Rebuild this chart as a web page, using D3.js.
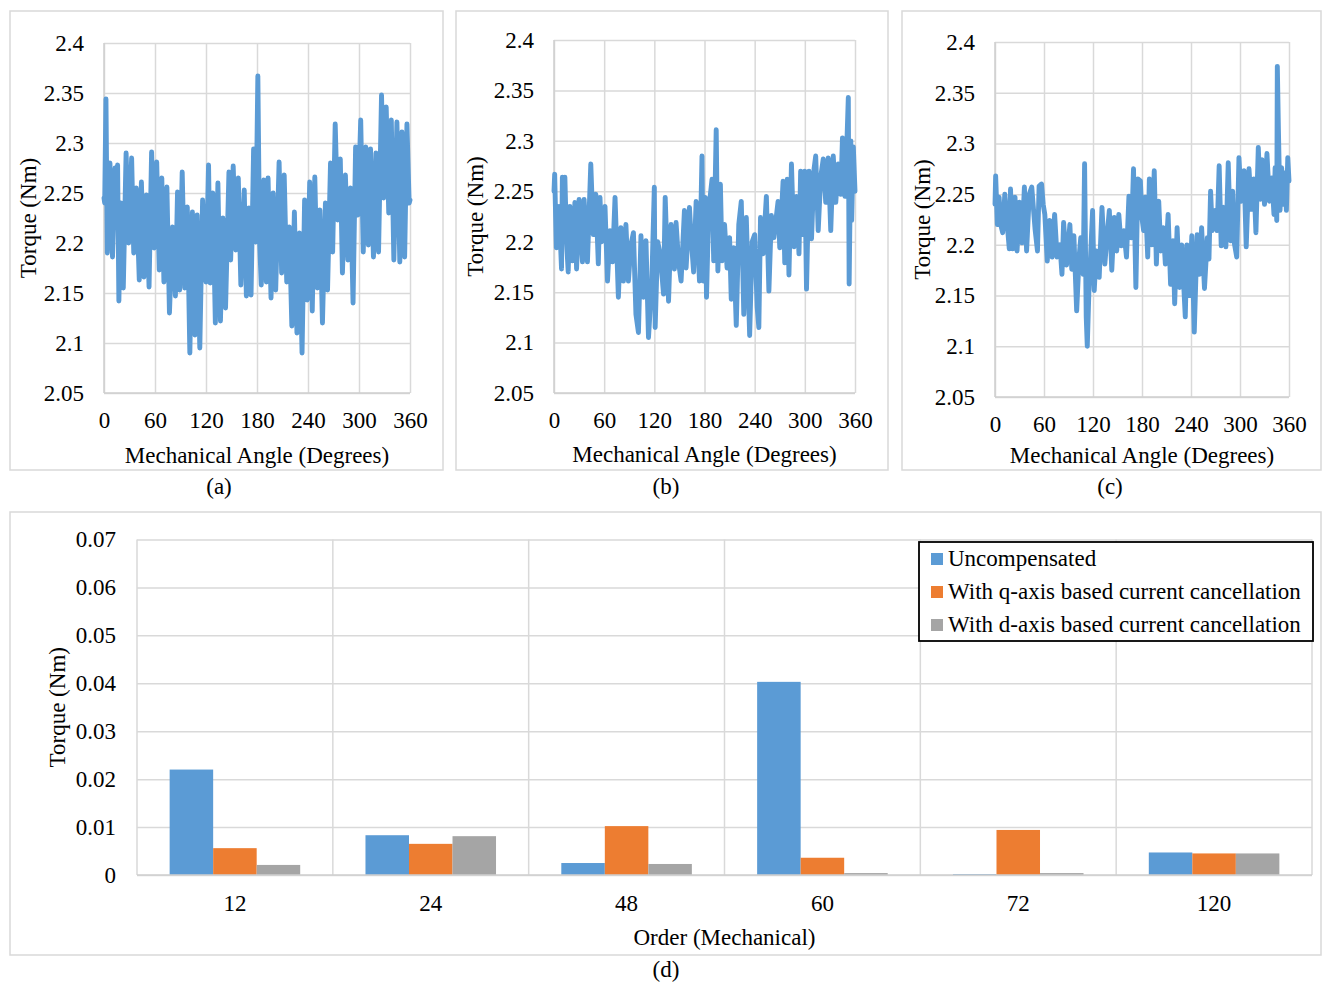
<!DOCTYPE html>
<html><head><meta charset="utf-8">
<script src="https://cdn.jsdelivr.net/npm/d3@7"></script>
<style>
body{margin:0;background:#fff}
svg text{font-family:"Liberation Serif","Times New Roman",serif !important;fill:#000}
</style>
</head><body>
<svg id="chart" width="1327" height="983"></svg>
<script>
// ---------- DATA ----------
const angleTicks = [0, 60, 120, 180, 240, 300, 360];
const torqueTicks = [2.05, 2.1, 2.15, 2.2, 2.25, 2.3, 2.35, 2.4];
const torqueTickLabels = ["2.05", "2.1", "2.15", "2.2", "2.25", "2.3", "2.35", "2.4"];

const anglesA = [0,0.8,2.3,3.9,7,10,13,15,16,17.5,19.6,22.7,26,29,32.5,35,38,41.5,44,47,50,53,56,59,62,65,68,70.5,74,77,80.6,84,86.5,89,92,95,98,101,104,107,109.6,112.7,116,120,123,125,128,131,134,137,140,143,147,149,152,155,158,161,165,167.5,170.6,173,176,178.5,181,183,185,188,191,193,196.5,199,202,206,209,212,215,218,221,224,227,230,233,236,239,242,245,248,251,254,257,260.5,263,266.5,269,272,275,278,280.5,284,287,290,293,296,298.7,302,305,308,311,313.6,317,320,323,326.5,329,332,335,338,341,344.6,348,350.5,353.7,356.4,359,360];
const torqueA = [2.245,2.24,2.344,2.19,2.28,2.186,2.275,2.22,2.278,2.142,2.24,2.155,2.29,2.2,2.285,2.19,2.255,2.163,2.261,2.166,2.248,2.156,2.291,2.195,2.281,2.173,2.265,2.161,2.256,2.13,2.216,2.147,2.251,2.153,2.271,2.155,2.236,2.09,2.231,2.108,2.228,2.095,2.243,2.161,2.278,2.16,2.25,2.12,2.26,2.122,2.225,2.135,2.271,2.183,2.277,2.193,2.265,2.158,2.253,2.147,2.235,2.148,2.294,2.201,2.367,2.203,2.158,2.263,2.161,2.265,2.145,2.25,2.153,2.281,2.17,2.268,2.161,2.216,2.117,2.231,2.11,2.21,2.09,2.243,2.143,2.261,2.132,2.266,2.155,2.233,2.12,2.24,2.153,2.28,2.191,2.319,2.223,2.284,2.17,2.268,2.183,2.255,2.14,2.296,2.228,2.323,2.191,2.296,2.198,2.294,2.186,2.29,2.191,2.348,2.245,2.336,2.23,2.323,2.183,2.321,2.181,2.311,2.186,2.319,2.24,2.243];

const anglesB = [0,0.8,2.8,6,9,10,12,13,15,17,19,22,25,27,30,34,36,40,44,47,50,53,55,57,61,64,67,70,73,77,80,83,86,89,92,95,98,101,104,107,110,113,117,120,121,124,127,131,133,137,140,144,146,149,152,156,158,162,164,167,170,174,177,178.4,181,182.4,185,189,191,194,196,199,201,204,207,210,212,215,218,221,224,227,230,234,237,240,243,245,247,250,254,257,260,263,268,270,274,276,279,281,284,287,290,293,295,298,300,302,305,308,311,313,316,319,322,325,328,331,334,337,340,343,345,348,350,352,353,355,356,358,360];
const torqueB = [2.25,2.267,2.194,2.235,2.173,2.264,2.22,2.264,2.2,2.17,2.235,2.181,2.239,2.173,2.242,2.18,2.242,2.18,2.277,2.207,2.247,2.178,2.244,2.2,2.235,2.161,2.211,2.18,2.244,2.145,2.214,2.161,2.217,2.161,2.197,2.209,2.128,2.11,2.206,2.145,2.201,2.105,2.161,2.254,2.115,2.2,2.188,2.148,2.244,2.141,2.217,2.173,2.219,2.18,2.161,2.231,2.174,2.234,2.204,2.17,2.24,2.161,2.285,2.161,2.244,2.145,2.231,2.262,2.181,2.311,2.171,2.257,2.181,2.217,2.174,2.204,2.143,2.194,2.117,2.217,2.24,2.128,2.224,2.107,2.2,2.207,2.135,2.115,2.224,2.188,2.245,2.151,2.226,2.204,2.24,2.194,2.26,2.179,2.262,2.167,2.277,2.195,2.245,2.188,2.27,2.207,2.27,2.153,2.27,2.203,2.272,2.285,2.211,2.264,2.282,2.239,2.283,2.211,2.285,2.239,2.277,2.247,2.303,2.245,2.29,2.343,2.158,2.3,2.221,2.294,2.25];

const anglesC = [0,0.8,2.9,5,7,9.4,12,15,17.5,19,21.6,24.5,27,30,33,36,38.7,42,45,49,52,54,57,59,61,64,67,70,73,76,79.5,82,84,87.6,91.7,94,96.6,100,103,105,108,109.7,111.7,113,115,117,119.5,121.5,124,127.6,131,134.5,137,140,143,146,149,151.6,154.5,157.8,161,164,167,169.6,172.5,175,178,180,182,184,187,189,192,195,197.6,200.5,203,206,208.6,212,215,218,220,223,226,228.7,233,235,238,241,244,247.5,250,253,256.5,260,262,264,266,269.6,272,274.5,277,280,282.7,285.6,288.4,291,293,296,298.7,301.5,305,307.6,311,314,317,319.5,322.4,325,327,330,333,336,339,341.6,343,345,345.7,347,349,351,353,355,356.8,358.5,360];
const torqueC = [2.24,2.268,2.22,2.247,2.22,2.212,2.25,2.22,2.196,2.255,2.196,2.247,2.194,2.242,2.202,2.257,2.194,2.25,2.257,2.216,2.194,2.258,2.26,2.24,2.23,2.184,2.224,2.188,2.23,2.188,2.2,2.171,2.222,2.18,2.22,2.176,2.209,2.135,2.188,2.207,2.171,2.28,2.129,2.1,2.155,2.188,2.234,2.155,2.194,2.168,2.237,2.181,2.207,2.234,2.175,2.227,2.194,2.23,2.199,2.214,2.188,2.248,2.207,2.275,2.158,2.265,2.263,2.226,2.214,2.247,2.188,2.265,2.2,2.273,2.181,2.243,2.194,2.217,2.181,2.23,2.161,2.204,2.142,2.217,2.158,2.2,2.129,2.2,2.15,2.209,2.114,2.21,2.171,2.217,2.157,2.207,2.186,2.253,2.214,2.234,2.214,2.278,2.199,2.237,2.198,2.281,2.204,2.253,2.202,2.188,2.286,2.243,2.273,2.198,2.275,2.235,2.265,2.212,2.296,2.245,2.284,2.24,2.29,2.243,2.266,2.23,2.276,2.224,2.376,2.315,2.234,2.276,2.24,2.271,2.234,2.286,2.263];

const orders = ["12", "24", "48", "60", "72", "120"];
const seriesNames = ["Uncompensated", "With q-axis based current cancellation", "With d-axis based current cancellation"];
const uncompensated = [0.0220, 0.0083, 0.0025, 0.0403, 0.0002, 0.0047];
const qAxisCancel   = [0.0056, 0.0065, 0.0102, 0.0036, 0.0094, 0.0045];
const dAxisCancel   = [0.0021, 0.0081, 0.0023, 0.0004, 0.0004, 0.0045];
const barTicks = [0, 0.01, 0.02, 0.03, 0.04, 0.05, 0.06, 0.07];
const barTickLabels = ["0", "0.01", "0.02", "0.03", "0.04", "0.05", "0.06", "0.07"];
const seriesColors = ["#5b9bd5", "#ed7d31", "#a5a5a5"];

// ---------- DRAWING ----------
const svg = d3.select("#chart");
const FS = 23;
const SERIF = '"Liberation Serif","Times New Roman",serif';
const gridColor = "#d9d9d9";
const frameColor = "#d9d9d9";

function styleLabels(s) {
  s.attr("font-family", SERIF).attr("font-size", FS);
  s.select(".domain").remove();
  s.selectAll("text").attr("fill", "#000");
}

function frame(b) {
  svg.append("rect").attr("x", b.x0).attr("y", b.y0)
    .attr("width", b.x1 - b.x0).attr("height", b.y1 - b.y0)
    .attr("fill", "none").attr("stroke", frameColor).attr("stroke-width", 1.5);
}

function linePanel(cfg, angles, torque) {
  frame(cfg.box);
  const p = cfg.plot;
  const x = d3.scaleLinear().domain([0, 360]).range([p.l, p.r]);
  const y = d3.scaleLinear().domain([2.05, 2.4]).range([p.b, p.t]);
  const g = svg.append("g");
  g.append("g").attr("transform", `translate(0,${p.b})`)
    .call(d3.axisBottom(x).tickValues(angleTicks).tickSize(-(p.b - p.t)).tickFormat(""))
    .call(s => s.select(".domain").remove())
    .call(s => s.selectAll("line").attr("stroke", gridColor).attr("stroke-width", 1.5));
  g.append("g").attr("transform", `translate(${p.l},0)`)
    .call(d3.axisLeft(y).tickValues(torqueTicks).tickSize(-(p.r - p.l)).tickFormat(""))
    .call(s => s.select(".domain").remove())
    .call(s => s.selectAll("line").attr("stroke", gridColor).attr("stroke-width", 1.5));
  g.append("line").attr("x1", p.l).attr("x2", p.l).attr("y1", p.t).attr("y2", p.b)
    .attr("stroke", "#cfcfcf").attr("stroke-width", 1.5);
  g.append("line").attr("x1", p.l).attr("x2", p.r).attr("y1", p.b).attr("y2", p.b)
    .attr("stroke", "#cfcfcf").attr("stroke-width", 1.5);
  g.append("g").attr("transform", `translate(${p.l},0)`)
    .call(d3.axisLeft(y).tickValues(torqueTicks).tickSize(0).tickPadding(20)
      .tickFormat((d, i) => torqueTickLabels[i]))
    .call(styleLabels);
  g.append("g").attr("transform", `translate(0,${p.b})`)
    .call(d3.axisBottom(x).tickValues(angleTicks).tickSize(0).tickPadding(19))
    .call(styleLabels);
  const pts = angles.map((a, i) => [a, torque[i]]);
  g.append("path").datum(pts)
    .attr("d", d3.line().x(d => x(d[0])).y(d => y(d[1])))
    .attr("fill", "none").attr("stroke", "#5b9bd5").attr("stroke-width", 4.9)
    .attr("stroke-linejoin", "round").attr("stroke-linecap", "round");
  svg.append("text").attr("x", (p.l + p.r) / 2).attr("y", cfg.xTitleY)
    .attr("text-anchor", "middle").attr("font-size", FS).text("Mechanical Angle (Degrees)");
  svg.append("text").attr("transform", `translate(${cfg.yTitleX},${(p.t + p.b) / 2}) rotate(-90)`)
    .attr("text-anchor", "middle").attr("dy", "0.35em").attr("font-size", FS).text("Torque (Nm)");
  svg.append("text").attr("x", cfg.capX).attr("y", cfg.capY)
    .attr("text-anchor", "middle").attr("font-size", FS).text(cfg.caption);
}

linePanel({box: {x0: 10, y0: 11, x1: 443, y1: 470}, plot: {l: 104, r: 410, t: 43, b: 393},
  xTitleY: 463, yTitleX: 28, capX: 219, capY: 494, caption: "(a)"}, anglesA, torqueA);
linePanel({box: {x0: 456, y0: 11, x1: 888, y1: 470}, plot: {l: 554, r: 855, t: 40, b: 393},
  xTitleY: 462, yTitleX: 475, capX: 666, capY: 494, caption: "(b)"}, anglesB, torqueB);
linePanel({box: {x0: 902, y0: 11, x1: 1321, y1: 470}, plot: {l: 995, r: 1289, t: 42, b: 397},
  xTitleY: 463, yTitleX: 922, capX: 1110, capY: 494, caption: "(c)"}, anglesC, torqueC);

// ---------- BAR CHART (d) ----------
(function () {
  const box = {x0: 10, y0: 512, x1: 1321, y1: 955};
  frame(box);
  const p = {l: 137, r: 1312, t: 539.5, b: 875};
  const x0 = d3.scaleBand().domain(orders).range([p.l, p.r]).padding(0);
  const x1 = d3.scaleBand().domain(seriesNames).range([0, x0.bandwidth()]).paddingInner(0).paddingOuter(0.75);
  const y = d3.scaleLinear().domain([0, 0.07]).range([p.b, p.t]);
  const g = svg.append("g");
  g.append("g").attr("transform", `translate(${p.l},0)`)
    .call(d3.axisLeft(y).tickValues(barTicks).tickSize(-(p.r - p.l)).tickFormat(""))
    .call(s => s.select(".domain").remove())
    .call(s => s.selectAll("line").attr("stroke", gridColor).attr("stroke-width", 1.5));
  const bounds = orders.map(o => x0(o)).concat([p.r]);
  g.selectAll(".vg").data(bounds).join("line")
    .attr("x1", d => d).attr("x2", d => d).attr("y1", p.t).attr("y2", p.b)
    .attr("stroke", gridColor).attr("stroke-width", 1.5);
  const seriesVals = [uncompensated, qAxisCancel, dAxisCancel];
  orders.forEach((o, i) => {
    seriesNames.forEach((s, j) => {
      g.append("rect")
        .attr("x", x0(o) + x1(s)).attr("width", x1.bandwidth())
        .attr("y", y(seriesVals[j][i])).attr("height", y(0) - y(seriesVals[j][i]))
        .attr("fill", seriesColors[j]);
    });
  });
  g.append("line").attr("x1", p.l).attr("x2", p.r).attr("y1", p.b).attr("y2", p.b)
    .attr("stroke", "#cfcfcf").attr("stroke-width", 1.5);
  g.append("g").attr("transform", `translate(${p.l},0)`)
    .call(d3.axisLeft(y).tickValues(barTicks).tickSize(0).tickPadding(21)
      .tickFormat((d, i) => barTickLabels[i]))
    .call(styleLabels);
  g.append("g").attr("transform", `translate(0,${p.b})`)
    .call(d3.axisBottom(x0).tickSize(0).tickPadding(20))
    .call(styleLabels);
  svg.append("text").attr("x", (p.l + p.r) / 2).attr("y", 945)
    .attr("text-anchor", "middle").attr("font-size", FS).text("Order (Mechanical)");
  svg.append("text").attr("transform", `translate(57,${(p.t + p.b) / 2}) rotate(-90)`)
    .attr("text-anchor", "middle").attr("dy", "0.35em").attr("font-size", FS).text("Torque (Nm)");
  svg.append("text").attr("x", 666).attr("y", 977)
    .attr("text-anchor", "middle").attr("font-size", FS).text("(d)");
  const lg = svg.append("g").attr("transform", "translate(919,542)");
  lg.append("rect").attr("width", 394).attr("height", 99)
    .attr("fill", "#fff").attr("stroke", "#000").attr("stroke-width", 1.8);
  seriesNames.forEach((s, j) => {
    lg.append("rect").attr("x", 12).attr("y", 11 + j * 33).attr("width", 12).attr("height", 12)
      .attr("fill", seriesColors[j]);
    lg.append("text").attr("x", 29).attr("y", 24 + j * 33).attr("font-size", FS).text(s);
  });
})();
</script>
</body></html>
